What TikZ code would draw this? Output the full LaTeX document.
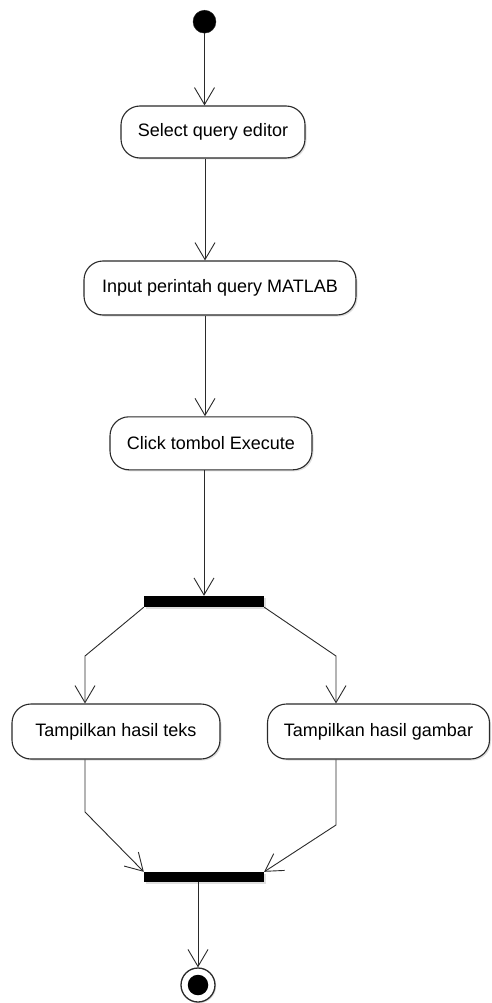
\documentclass[tikz,border=0pt]{standalone}
\usepackage{fontspec}
\setmainfont{Liberation Sans}
\usetikzlibrary{arrows.meta,shadows}
\definecolor{ink}{HTML}{2A2A2A}
\tikzset{
  x=1pt, y=-1pt,
  action/.style={draw=ink, line width=1.1pt, fill=white, rounded corners=19pt,
    inner sep=0pt, font=\fontsize{18}{21}\selectfont,
    drop shadow={shadow xshift=1.5pt, shadow yshift=-1.5pt, opacity=0.25}},
  syncbar/.style={fill=black, draw=none, inner sep=0pt, minimum width=120pt,
    drop shadow={shadow xshift=1.5pt, shadow yshift=-1.5pt, opacity=0.25}},
  flow/.style={draw=ink, line width=0.9pt,
    -{Straight Barb[length=17pt, width=20pt, line width=0.9pt]}},
}
\begin{document}
\begin{tikzpicture}
\useasboundingbox (0,0) rectangle (491,1003);

% initial and final states
\node[circle, fill=black, draw=ink, inner sep=0pt, minimum size=23pt] (start) at (204.5,21.7) {};
\node[circle, draw=ink, line width=1.3pt, fill=white, inner sep=0pt, minimum size=34pt,
  drop shadow={shadow xshift=1.2pt, shadow yshift=-1.2pt, opacity=0.25}] (end) at (198,985) {};
\node[circle, fill=black, inner sep=0pt, minimum size=20.5pt] (endcore) at (end.center) {};

% actions
\node[action, minimum width=184pt, minimum height=52pt] (b1) at (213,132) {Select query editor};
\node[action, minimum width=272pt, minimum height=54pt] (b2) at (220,288) {Input perintah query MATLAB};
\node[action, minimum width=202pt, minimum height=53pt] (b3) at (211,443.3) {Click tombol Execute};
\node[action, minimum width=208pt, minimum height=55pt] (bl) at (116,731.5) {Tampilkan hasil teks};
\node[action, minimum width=222pt, minimum height=55pt] (br) at (378.5,731.5) {Tampilkan hasil gambar};

% fork and join bars
\node[syncbar, minimum height=11pt] (fork) at (204,601.5) {};
\node[syncbar, minimum height=10pt] (join) at (204,877) {};

% routing points
\coordinate (spine) at (205,0);
\coordinate (forkx) at (204,0);
\coordinate (kl) at (85,656);
\coordinate (kr) at (336,656);
\coordinate (jl) at (85,812);
\coordinate (jr) at (336,825);

% control flow
\draw[flow] (start.south) -- (start.south |- b1.north);
\draw[flow] (b1.south -| spine) -- (b2.north -| spine);
\draw[flow] (b2.south -| spine) -- (b3.north -| spine);
\draw[flow] (b3.south -| forkx) -- (fork.north -| forkx);
\draw[flow] (fork.south west) -- (kl) -- (kl |- bl.north);
\draw[flow] (fork.south east) -- (kr) -- (kr |- br.north);
\draw[flow] (bl.south -| jl) -- (jl) -- (join.north west);
\draw[flow] (br.south -| jr) -- (jr) -- (join.north east);
\draw[flow] (join.south -| end) -- (end.north);
\end{tikzpicture}
\end{document}
